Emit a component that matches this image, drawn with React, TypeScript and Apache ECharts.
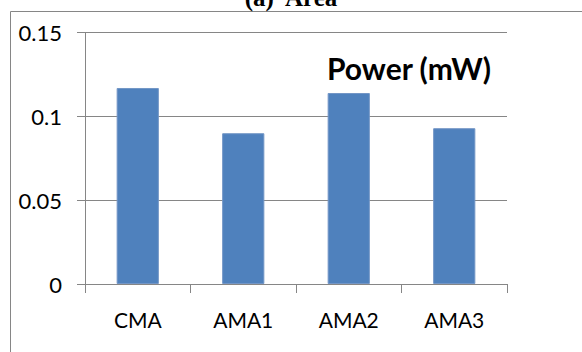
import React, { useEffect, useRef } from "react";
import * as echarts from "echarts";

const categories = ["CMA", "AMA1", "AMA2", "AMA3"];
const powerValues = [0.117, 0.09, 0.114, 0.093];
const yTicks = [0, 0.05, 0.1, 0.15];
const chartTitle = "Power (mW)";
const figureCaption = "(a)  Area";

export default function App() {
  const ref = useRef<HTMLDivElement>(null);
  useEffect(() => {
    if (!ref.current) return;
    const chart = echarts.init(ref.current, undefined, { renderer: "svg" });
    const gray = "#868686";
    const font = 'Lato, "Noto Sans", sans-serif';
    chart.setOption({
      animation: false,
      backgroundColor: "#ffffff",
      grid: { left: 85, right: 75, top: 32.7, bottom: 68, containLabel: false },
      xAxis: {
        type: "category",
        data: categories,
        boundaryGap: true,
        axisLine: { show: true, lineStyle: { color: gray, width: 1 } },
        axisTick: { show: true, length: 9, lineStyle: { color: gray } },
        axisLabel: { color: "#000", fontFamily: font, fontSize: 21, margin: 25 },
      },
      yAxis: {
        type: "value",
        min: yTicks[0],
        max: yTicks[yTicks.length - 1],
        interval: 0.05,
        axisLine: { show: true, lineStyle: { color: gray, width: 1 } },
        axisTick: { show: true, length: 8, lineStyle: { color: gray } },
        splitLine: { show: true, lineStyle: { color: gray, width: 1 } },
        axisLabel: {
          color: "#000",
          fontFamily: font,
          fontSize: 22,
          margin: 23,
          formatter: (v: number) => String(Math.round(v * 100) / 100),
        },
      },
      series: [
        {
          type: "bar",
          data: powerValues,
          barWidth: "40%",
          itemStyle: { color: "#4F81BD", borderColor: "#7396c6", borderWidth: 1 },
        },
      ],
      graphic: [
        {
          type: "rect",
          shape: { x: 10.5, y: 11.5, width: 700, height: 500 },
          style: { fill: "none", stroke: gray, lineWidth: 1 },
          z: -1,
        },
        {
          type: "text",
          x: 291,
          y: 10,
          style: {
            text: figureCaption,
            fontFamily: '"Liberation Serif", "DejaVu Serif", serif',
            fontWeight: "bold",
            fontSize: 25,
            fill: "#000",
            align: "center",
            verticalAlign: "bottom",
          },
        },
        {
          type: "text",
          x: 409,
          y: 67.5,
          style: {
            text: chartTitle,
            fontFamily: font,
            fontWeight: "bold",
            fontSize: 30,
            fill: "#000",
            align: "center",
            verticalAlign: "middle",
          },
        },
      ],
    });
    return () => chart.dispose();
  }, []);
  return (
    <div
      ref={ref}
      style={{ position: "fixed", left: 0, top: 0, width: 582, height: 352 }}
    />
  );
}
